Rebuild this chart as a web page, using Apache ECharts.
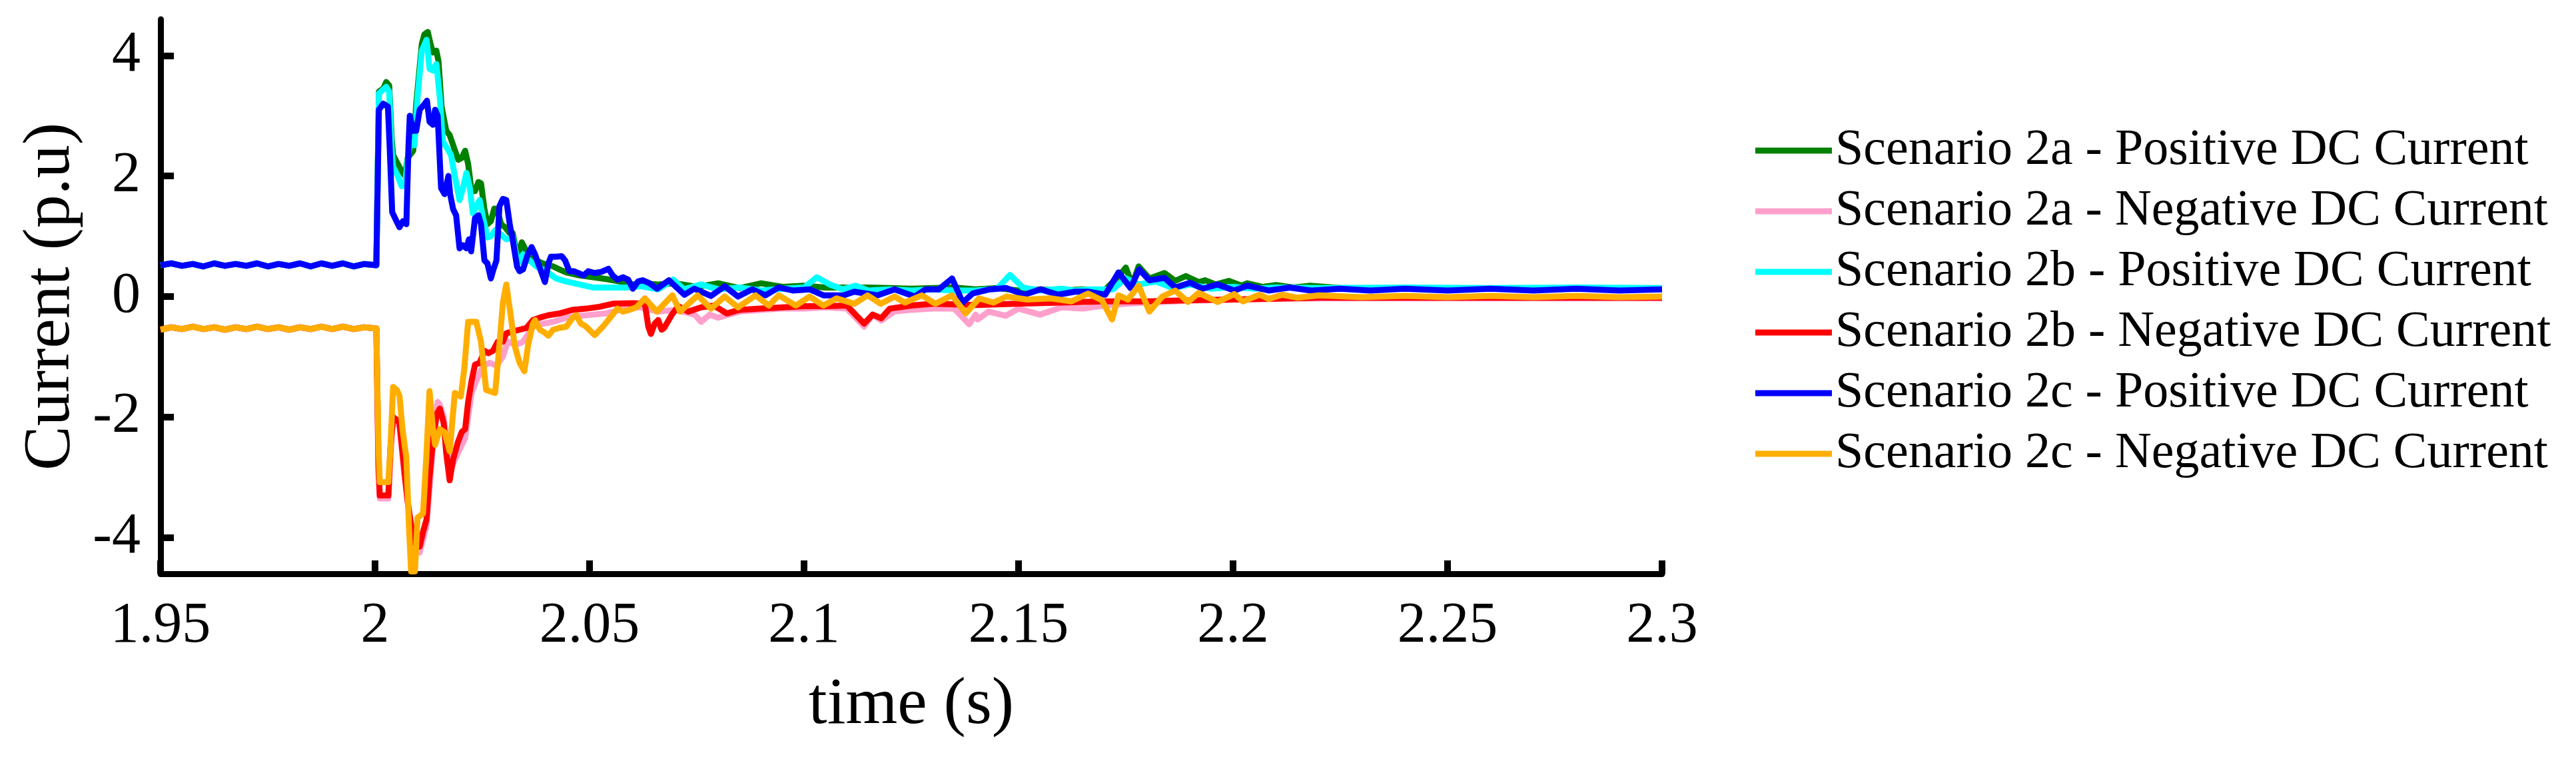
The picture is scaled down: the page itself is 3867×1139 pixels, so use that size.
<!DOCTYPE html>
<html>
<head>
<meta charset="utf-8">
<script src="https://cdn.jsdelivr.net/npm/echarts@6/dist/echarts.min.js"></script>
<style>
html,body{margin:0;padding:0;background:#fff;}
#chart{width:3867px;height:1139px;}
</style>
</head>
<body>
<div id="chart"></div>
<script>
// ---- tick labels ----
const xTicks = [1.95, 2, 2.05, 2.1, 2.15, 2.2, 2.25, 2.3];
const yTicks = [-4, -2, 0, 2, 4];

// ---- series names ----
const seriesNames = [
  'Scenario 2a - Positive DC Current',
  'Scenario 2a - Negative DC Current',
  'Scenario 2b - Positive DC Current',
  'Scenario 2b - Negative DC Current',
  'Scenario 2c - Positive DC Current',
  'Scenario 2c - Negative DC Current'
];

// ---- pre-fault (identical for all scenarios) ----
const preFaultPos = [[1.95,0.52],[1.9525,0.55],[1.955,0.51],[1.9575,0.54],[1.96,0.5],[1.9625,0.55],[1.965,0.51],[1.9675,0.54],[1.97,0.51],[1.9725,0.55],[1.975,0.5],[1.9775,0.54],[1.98,0.51],[1.9825,0.55],[1.985,0.5],[1.9875,0.55],[1.99,0.51],[1.9925,0.55],[1.995,0.5],[1.9975,0.54],[2.0003,0.52]];
const preFaultNeg = [[1.95,-0.55],[1.9525,-0.51],[1.955,-0.54],[1.9575,-0.5],[1.96,-0.54],[1.9625,-0.51],[1.965,-0.55],[1.9675,-0.51],[1.97,-0.54],[1.9725,-0.5],[1.975,-0.54],[1.9775,-0.51],[1.98,-0.55],[1.9825,-0.51],[1.985,-0.54],[1.9875,-0.5],[1.99,-0.54],[1.9925,-0.5],[1.995,-0.54],[1.9975,-0.51],[2.0003,-0.53]];

// ---- Scenario 2a positive ----
const s2aPos = [[2.0009,3.4],[2.0019,3.45],[2.0026,3.56],[2.0033,3.5],[2.0039,2.6],[2.0042,2.35],[2.0053,2.2],[2.0062,2.08],[2.007,2.0],[2.0076,2.3],[2.0089,2.42],[2.0096,3.2],[2.0109,4.19],[2.0115,4.35],[2.0123,4.39],[2.0129,4.2],[2.0135,4.05],[2.0143,4.08],[2.0148,3.9],[2.0155,3.16],[2.0166,2.75],[2.0174,2.68],[2.0185,2.45],[2.0194,2.27],[2.0202,2.3],[2.021,2.42],[2.0217,2.2],[2.0225,1.75],[2.0233,1.75],[2.0241,1.9],[2.0247,1.88],[2.0255,1.45],[2.0262,1.2],[2.027,1.25],[2.0278,1.46],[2.0286,1.4],[2.0294,1.2],[2.0303,1.15],[2.0314,1.05],[2.0321,1.05],[2.0332,0.65],[2.0342,0.9],[2.0353,0.75],[2.0363,0.66],[2.0376,0.6],[2.0391,0.55],[2.0415,0.5],[2.043,0.45],[2.0446,0.4],[2.0477,0.35],[2.0508,0.32],[2.0539,0.29],[2.057,0.25],[2.0601,0.2],[2.062,0.22],[2.066,0.2],[2.07,0.22],[2.075,0.16],[2.08,0.22],[2.085,0.14],[2.09,0.22],[2.095,0.16],[2.1,0.18],[2.105,0.15],[2.11,0.15],[2.115,0.15],[2.12,0.14],[2.125,0.13],[2.13,0.14],[2.135,0.15],[2.14,0.12],[2.145,0.14],[2.15,0.1],[2.155,0.12],[2.16,0.1],[2.165,0.12],[2.17,0.1],[2.1735,0.35],[2.175,0.48],[2.1765,0.2],[2.178,0.5],[2.1805,0.3],[2.184,0.39],[2.1865,0.26],[2.189,0.34],[2.192,0.24],[2.1935,0.27],[2.196,0.2],[2.199,0.26],[2.202,0.18],[2.2033,0.22],[2.207,0.16],[2.21,0.19],[2.214,0.15],[2.218,0.18],[2.225,0.14],[2.24,0.13],[2.26,0.13],[2.28,0.13],[2.3,0.13]];

// ---- Scenario 2a negative ----
const s2aNeg = [[2.0008,-2.9],[2.0011,-3.35],[2.0031,-3.35],[2.0039,-2.3],[2.0042,-2.05],[2.0057,-2.15],[2.0068,-2.95],[2.0084,-3.85],[2.0104,-4.25],[2.012,-3.8],[2.0135,-2.5],[2.0146,-1.75],[2.0151,-1.8],[2.016,-2.0],[2.0174,-2.9],[2.0193,-2.6],[2.021,-2.35],[2.0225,-1.6],[2.0236,-1.4],[2.0252,-1.15],[2.0267,-1.1],[2.0283,-1.15],[2.0298,-1.0],[2.0309,-0.75],[2.0329,-0.8],[2.0345,-0.75],[2.0368,-0.5],[2.0391,-0.45],[2.0415,-0.42],[2.0446,-0.35],[2.0477,-0.32],[2.0508,-0.3],[2.0539,-0.28],[2.057,-0.22],[2.0601,-0.18],[2.062,-0.18],[2.066,-0.25],[2.07,-0.22],[2.0745,-0.3],[2.076,-0.42],[2.078,-0.3],[2.08,-0.35],[2.085,-0.25],[2.09,-0.22],[2.095,-0.2],[2.1,-0.2],[2.105,-0.18],[2.11,-0.2],[2.114,-0.5],[2.116,-0.3],[2.118,-0.4],[2.121,-0.25],[2.125,-0.22],[2.13,-0.2],[2.135,-0.2],[2.1385,-0.46],[2.14,-0.3],[2.1405,-0.38],[2.143,-0.25],[2.147,-0.32],[2.15,-0.2],[2.155,-0.3],[2.16,-0.18],[2.165,-0.2],[2.17,-0.15],[2.175,-0.12],[2.18,-0.1],[2.19,-0.07],[2.2,-0.05],[2.22,-0.03],[2.25,-0.03],[2.3,-0.03]];

// ---- Scenario 2b positive ----
const s2bPos = [[2.0009,3.37],[2.0026,3.48],[2.0033,3.4],[2.0039,2.4],[2.0042,2.16],[2.0053,2.0],[2.0062,1.83],[2.007,1.85],[2.0078,2.4],[2.0084,2.57],[2.0092,2.51],[2.0099,3.3],[2.0109,4.08],[2.012,4.26],[2.0124,4.0],[2.0127,3.78],[2.0135,3.75],[2.0143,3.86],[2.0151,3.3],[2.0158,2.57],[2.0169,2.45],[2.0177,2.35],[2.0186,2.0],[2.0197,1.6],[2.0205,1.8],[2.0213,2.05],[2.0221,1.8],[2.0228,1.38],[2.0236,1.5],[2.0244,1.6],[2.0252,1.3],[2.0262,0.98],[2.027,1.0],[2.028,1.1],[2.029,1.05],[2.0306,0.95],[2.0321,0.98],[2.0329,0.7],[2.0337,0.57],[2.0345,0.7],[2.036,0.6],[2.0376,0.5],[2.0399,0.42],[2.0422,0.3],[2.0446,0.25],[2.0477,0.2],[2.0508,0.15],[2.0539,0.15],[2.0585,0.15],[2.062,0.17],[2.066,0.12],[2.0695,0.28],[2.072,0.12],[2.076,0.2],[2.08,0.12],[2.085,0.15],[2.09,0.1],[2.095,0.13],[2.1,0.15],[2.103,0.32],[2.106,0.2],[2.109,0.12],[2.112,0.18],[2.115,0.1],[2.12,0.12],[2.125,0.1],[2.13,0.12],[2.135,0.1],[2.14,0.1],[2.145,0.13],[2.148,0.36],[2.151,0.15],[2.155,0.1],[2.16,0.13],[2.163,0.1],[2.167,0.12],[2.172,0.12],[2.175,0.3],[2.178,0.2],[2.182,0.25],[2.186,0.14],[2.19,0.2],[2.195,0.13],[2.2,0.16],[2.205,0.13],[2.21,0.15],[2.22,0.14],[2.24,0.15],[2.26,0.14],[2.28,0.15],[2.3,0.14]];

// ---- Scenario 2b negative ----
const s2bNeg = [[2.0008,-2.8],[2.0011,-3.3],[2.0031,-3.3],[2.0036,-2.5],[2.0042,-2.0],[2.0051,-2.05],[2.0057,-2.1],[2.0068,-2.86],[2.0076,-3.4],[2.0084,-3.78],[2.0092,-4.1],[2.0104,-4.15],[2.0112,-3.9],[2.012,-3.7],[2.0127,-3.0],[2.0135,-2.38],[2.0144,-1.95],[2.0151,-1.86],[2.016,-2.1],[2.0166,-2.6],[2.0174,-3.05],[2.0182,-2.7],[2.0193,-2.42],[2.0202,-2.25],[2.021,-2.2],[2.0217,-1.75],[2.0225,-1.4],[2.0233,-1.13],[2.0244,-1.1],[2.0255,-0.9],[2.0264,-0.94],[2.0275,-0.9],[2.0286,-0.75],[2.0298,-0.75],[2.0306,-0.61],[2.0321,-0.58],[2.0337,-0.55],[2.0353,-0.52],[2.0368,-0.39],[2.0384,-0.35],[2.0404,-0.31],[2.043,-0.28],[2.0461,-0.22],[2.0492,-0.2],[2.0523,-0.17],[2.0554,-0.12],[2.0601,-0.11],[2.0629,-0.12],[2.0637,-0.5],[2.0643,-0.62],[2.0652,-0.45],[2.066,-0.39],[2.0668,-0.55],[2.0674,-0.52],[2.0692,-0.3],[2.0707,-0.16],[2.073,-0.25],[2.076,-0.18],[2.079,-0.15],[2.082,-0.28],[2.085,-0.22],[2.09,-0.2],[2.095,-0.18],[2.1,-0.16],[2.105,-0.16],[2.11,-0.15],[2.114,-0.45],[2.116,-0.3],[2.118,-0.36],[2.12,-0.2],[2.125,-0.15],[2.13,-0.12],[2.14,-0.14],[2.15,-0.12],[2.16,-0.1],[2.17,-0.08],[2.18,-0.08],[2.19,-0.06],[2.2,-0.05],[2.22,-0.02],[2.24,-0.02],[2.26,-0.02],[2.28,-0.02],[2.3,-0.02]];

// ---- Scenario 2c positive ----
const s2cPos = [[2.0009,3.1],[2.0019,3.2],[2.003,3.15],[2.0034,2.5],[2.004,1.4],[2.005,1.25],[2.0057,1.15],[2.0065,1.25],[2.0073,1.2],[2.0078,2.5],[2.0081,3.0],[2.0089,2.75],[2.0096,2.75],[2.0104,3.1],[2.0116,3.2],[2.0121,3.25],[2.0127,2.9],[2.0135,2.85],[2.014,3.1],[2.0146,3.0],[2.0154,1.8],[2.0162,1.7],[2.0171,2.0],[2.0175,1.7],[2.0182,1.45],[2.0189,1.35],[2.0197,0.8],[2.0205,0.85],[2.0213,0.8],[2.0219,0.95],[2.0224,0.75],[2.0233,1.3],[2.0241,1.35],[2.0247,1.2],[2.0255,0.6],[2.0262,0.55],[2.027,0.3],[2.0276,0.45],[2.0283,0.6],[2.029,1.5],[2.0298,1.62],[2.0306,1.6],[2.0314,1.2],[2.0321,0.94],[2.0331,0.5],[2.0337,0.42],[2.0345,0.45],[2.0356,0.7],[2.0365,0.82],[2.0373,0.7],[2.038,0.55],[2.0388,0.4],[2.0396,0.24],[2.0404,0.55],[2.041,0.66],[2.0422,0.66],[2.0435,0.67],[2.0443,0.6],[2.0453,0.42],[2.0464,0.42],[2.0477,0.38],[2.0486,0.35],[2.0497,0.42],[2.0512,0.39],[2.0528,0.41],[2.0544,0.46],[2.0554,0.35],[2.0565,0.28],[2.0578,0.32],[2.059,0.28],[2.0601,0.13],[2.0613,0.25],[2.0624,0.27],[2.064,0.22],[2.0657,0.13],[2.0685,0.27],[2.0721,0.03],[2.0744,0.13],[2.0783,0.01],[2.0815,0.17],[2.0846,0.0],[2.0879,0.12],[2.091,0.02],[2.0941,0.15],[2.0974,0.1],[2.1013,0.12],[2.1045,0.02],[2.1092,0.02],[2.1117,0.08],[2.1171,0.02],[2.1211,0.12],[2.1258,0.0],[2.1283,0.12],[2.1314,0.12],[2.1345,0.3],[2.137,-0.1],[2.1393,0.05],[2.1433,0.12],[2.1472,0.14],[2.1513,0.03],[2.1551,0.12],[2.1592,0.03],[2.1631,0.08],[2.1662,0.08],[2.1702,0.03],[2.1733,0.4],[2.1761,0.14],[2.1781,0.45],[2.1805,0.27],[2.184,0.31],[2.1865,0.15],[2.19,0.23],[2.1929,0.13],[2.1964,0.2],[2.2003,0.1],[2.2033,0.18],[2.2083,0.1],[2.2132,0.15],[2.2182,0.1],[2.225,0.13],[2.232,0.1],[2.24,0.13],[2.25,0.1],[2.26,0.13],[2.27,0.1],[2.28,0.13],[2.29,0.1],[2.3,0.12]];

// ---- Scenario 2c negative ----
const s2cNeg = [[2.0008,-2.5],[2.0011,-3.08],[2.0031,-3.08],[2.0036,-2.5],[2.0042,-1.5],[2.0051,-1.55],[2.0057,-1.65],[2.0064,-2.2],[2.0073,-2.68],[2.0079,-3.8],[2.0084,-4.56],[2.0093,-4.56],[2.0099,-3.67],[2.0112,-3.6],[2.012,-2.6],[2.0127,-1.57],[2.0135,-2.2],[2.014,-2.46],[2.0151,-2.2],[2.0162,-2.25],[2.0174,-2.57],[2.0186,-1.6],[2.02,-1.66],[2.0208,-1.2],[2.0217,-0.42],[2.0236,-0.42],[2.0247,-0.75],[2.0259,-1.55],[2.028,-1.6],[2.029,-0.8],[2.0298,-0.1],[2.0306,0.2],[2.0314,-0.2],[2.0326,-0.83],[2.0337,-1.1],[2.0348,-1.24],[2.0357,-0.8],[2.0368,-0.45],[2.0373,-0.39],[2.0384,-0.55],[2.0396,-0.6],[2.0404,-0.65],[2.0415,-0.55],[2.043,-0.52],[2.0446,-0.5],[2.0461,-0.35],[2.0469,-0.31],[2.048,-0.45],[2.0492,-0.5],[2.0512,-0.64],[2.0531,-0.5],[2.0547,-0.36],[2.0565,-0.2],[2.0578,-0.25],[2.0593,-0.22],[2.0609,-0.18],[2.0629,-0.03],[2.0657,-0.25],[2.0693,0.02],[2.0711,-0.25],[2.0752,0.02],[2.0783,-0.2],[2.0815,0.0],[2.0846,-0.18],[2.0887,0.02],[2.0918,-0.15],[2.0941,0.02],[2.0981,-0.15],[2.1013,0.0],[2.1045,-0.15],[2.1076,-0.03],[2.1117,-0.12],[2.1148,0.02],[2.1179,-0.12],[2.1211,0.0],[2.1235,-0.1],[2.1275,0.02],[2.1306,-0.12],[2.1345,0.02],[2.1377,-0.28],[2.1408,-0.03],[2.1441,-0.1],[2.1472,0.0],[2.152,-0.05],[2.1575,-0.03],[2.1623,-0.08],[2.1662,0.05],[2.1694,-0.06],[2.1718,-0.38],[2.1733,0.02],[2.1755,-0.05],[2.178,0.18],[2.1805,-0.25],[2.1835,0.0],[2.1865,0.1],[2.1895,-0.09],[2.192,0.06],[2.1964,-0.09],[2.2003,0.04],[2.2023,-0.08],[2.2062,0.03],[2.2083,-0.04],[2.2115,0.03],[2.215,-0.02],[2.22,0.02],[2.23,-0.01],[2.24,0.01],[2.25,-0.01],[2.26,0.01],[2.27,-0.01],[2.28,0.01],[2.29,-0.01],[2.3,0.0]];

const seriesData = [
  preFaultPos.concat(s2aPos),
  preFaultNeg.concat(s2aNeg),
  preFaultPos.concat(s2bPos),
  preFaultNeg.concat(s2bNeg),
  preFaultPos.concat(s2cPos),
  preFaultNeg.concat(s2cNeg)
];
const seriesColors = ['#008000', '#FF9FCB', '#00FFFF', '#FF0000', '#0000FF', '#FFAE00'];

const FONT = '"Liberation Serif", "Times New Roman", serif';
const chart = echarts.init(document.getElementById('chart'), null, {renderer: 'canvas'});

chart.setOption({
  animation: false,
  backgroundColor: '#ffffff',
  grid: {left: 241, right: 1372, top: 29, bottom: 278, outerBoundsMode: 'none'},
  legend: {
    orient: 'vertical',
    left: 2630,
    top: 176,
    icon: 'rect',
    itemWidth: 115,
    itemHeight: 9,
    itemGap: 1,
    data: seriesNames,
    textStyle: {fontFamily: FONT, fontSize: 76, color: '#000', lineHeight: 90}
  },
  xAxis: {
    type: 'value',
    min: 1.95,
    max: 2.3,
    name: 'time (s)',
    nameLocation: 'middle',
    nameGap: 148,
    nameTextStyle: {fontFamily: FONT, fontSize: 100, color: '#000'},
    axisLine: {show: true, onZero: false, lineStyle: {color: '#000', width: 9}},
    axisTick: {show: true, inside: true, length: 20, customValues: xTicks, lineStyle: {color: '#000', width: 10}},
    axisLabel: {customValues: xTicks, fontFamily: FONT, fontSize: 86, color: '#000', margin: 36,
      formatter: v => String(Math.round(v * 100) / 100)},
    splitLine: {show: false}
  },
  yAxis: {
    type: 'value',
    min: -4.6,
    max: 4.6,
    name: 'Current (p.u)',
    nameLocation: 'middle',
    nameGap: 114,
    nameRotate: 90,
    nameTextStyle: {fontFamily: FONT, fontSize: 100, color: '#000'},
    axisLine: {show: true, onZero: false, lineStyle: {color: '#000', width: 9}},
    axisTick: {show: true, inside: true, length: 20, customValues: yTicks, lineStyle: {color: '#000', width: 10}},
    axisLabel: {customValues: yTicks, fontFamily: FONT, fontSize: 86, color: '#000', margin: 30},
    splitLine: {show: false}
  },
  series: seriesNames.map((name, i) => ({
    name: name,
    type: 'line',
    data: seriesData[i],
    showSymbol: false,
    symbol: 'none',
    color: seriesColors[i],
    lineStyle: {color: seriesColors[i], width: 9, join: 'round'},
    clip: true,
    z: 2 + i
  }))
});
</script>
</body>
</html>
